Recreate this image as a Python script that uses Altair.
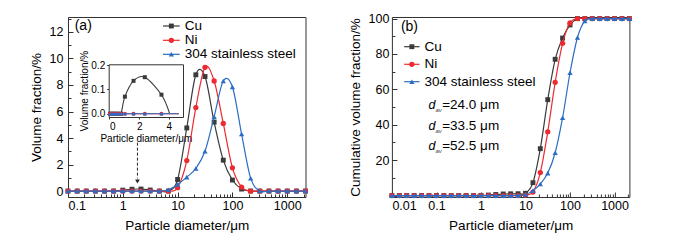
import altair as alt
import pandas as pd

# ---------------- data ----------------
series = ["Cu", "Ni", "304 stainless steel"]
colors = ["#3a3a3a", "#ec2a30", "#2b6dc4"]
shapes = ["square", "circle", "triangle-up"]

# (a) volume fraction distribution
sizes_a = [0.1, 0.147, 0.215, 0.316, 0.464, 0.681, 1.0, 1.47, 2.15, 3.16, 4.64, 6.81,
           10.0, 14.7, 21.5, 31.6, 46.4, 68.1, 100.0, 147.0, 215.0, 316.0, 464.0, 681.0,
           1000.0, 1470.0, 2154.0]
cu_a = [0, 0, 0, 0, 0, 0, 0.07, 0.135, 0.15, 0.078, 0, 0,
        0.87, 4.76, 8.77, 8.64, 5.2, 2.33, 0.83, 0.15, 0, 0, 0, 0, 0, 0, 0]
ni_a = [0, 0, 0, 0, 0, 0, 0, 0, 0, 0, 0, 0,
        0.25, 2.3, 6.3, 9.33, 8.3, 5.1, 1.75, 0.3, 0, 0, 0, 0, 0, 0, 0]
ss_a = [0, 0, 0, 0, 0, 0, 0, 0, 0, 0, 0, 0.1,
        0.5, 1.05, 1.7, 3.0, 5.6, 8.3, 7.85, 4.3, 0.97, 0, 0, 0, 0, 0, 0]

# (b) cumulative volume fraction
sizes_b = [0.01, 0.0147, 0.0215, 0.0316, 0.0464, 0.0681, 0.1, 0.147, 0.215, 0.316, 0.464, 0.681,
           1.0, 1.47, 2.15, 3.16, 4.64, 6.81, 10.0, 14.7, 21.5, 31.6, 46.4, 68.1, 100.0, 147.0,
           215.0, 316.0, 464.0, 681.0, 1000.0, 1470.0, 2154.0]
cu_b = [0, 0, 0, 0, 0, 0, 0, 0, 0, 0, 0, 0,
        0.1, 0.3, 0.6, 0.9, 1.0, 1.05, 1.3, 7.3, 26.5, 54.2, 77, 89, 96.4, 100,
        100, 100, 100, 100, 100, 100, 100]
ni_b = [0, 0, 0, 0, 0, 0, 0, 0, 0, 0, 0, 0,
        0, 0, 0, 0, 0, 0, 0.3, 2.0, 13, 36, 64, 86, 97.5, 100,
        100, 100, 100, 100, 100, 100, 100]
ss_b = [0, 0, 0, 0, 0, 0, 0, 0, 0, 0, 0, 0,
        0, 0, 0, 0, 0, 0.1, 0.6, 2.8, 6.5, 12.7, 24.2, 44, 69.4, 89.3,
        98.7, 100, 100, 100, 100, 100, 100]

# inset of (a)
inset_x_cu = [0.05, 0.18, 0.31, 0.45, 0.6, 0.78, 1.04, 1.62, 2.38, 3.5, 4.05]
inset_cu = [0, 0, 0, 0, 0, 0, 0.07, 0.135, 0.15, 0.078, 0]
inset_x_zero = [0.05, 0.18, 0.31, 0.45, 0.6, 0.78, 1.04, 1.62, 2.38, 3.5, 4.67]
inset_zero = [0, 0, 0, 0, 0, 0, 0, 0, 0, 0, 0]

# dashed arrow (a)
arrow_x = [1.85]
arrow_top = [3.65]
arrow_bot = [0.95]
arrow_tip = [0.72]

# average diameters (b)
dav_text = ["=24.0 μm", "=33.5 μm", "=52.5 μm"]

xtitle = "Particle diameter/μm"

# ---------------- style ----------------
FONT = "Liberation Sans"
W, H = 237.5, 180
TICK = "#333333"
LOGMAJOR = "abs(log(datum.value)/LN10 - round(log(datum.value)/LN10)) < 0.001"


def log_ticks(decades, xmax):
    out = []
    for d in decades:
        for m in range(1, 10):
            v = m * d
            if v <= xmax:
                out.append(v)
    return out


def panel(sizes, vals, xdomain, ydomain, decades, yticks, ymajor, ymajor_test,
          ytitle, ylabpad, ytitlepad, legend_pos, label_text, label_pos, extra):
    xs = alt.Scale(type="log", domain=xdomain, nice=False)
    ys = alt.Scale(domain=ydomain, nice=False, zero=False)
    xticks = log_ticks(decades, xdomain[1])
    layers = []
    for i, v in enumerate(vals):
        df = pd.DataFrame({"d": sizes, "v": v})
        base = alt.Chart(df)
        if i == 0:
            xa_l = alt.Axis(orient="bottom", values=decades, format="~g", ticks=False,
                            domain=False, grid=False, labelPadding=2, labelFontSize=12.5,
                            title=xtitle, titleFontSize=13.5, titlePadding=7)
            ya_l = alt.Axis(orient="left", values=ymajor, format=".0f", ticks=False,
                            domain=False, grid=False, labels=True, labelPadding=ylabpad,
                            labelFontSize=12.5, labelOpacity=1, labelColor="black",
                            title=ytitle, titleFontSize=13.5, titlePadding=ytitlepad)
            xa_p = alt.Axis(orient="top", offset=-H, values=xticks, labels=False, domain=False,
                            grid=False, title=None, tickColor=TICK, tickWidth=1,
                            tickSize={"condition": {"test": LOGMAJOR, "value": 5}, "value": 3})
            ya_p = alt.Axis(orient="right", offset=-W, values=yticks, labels=False, domain=False,
                            grid=False, title=None, tickColor=TICK, tickWidth=1,
                            tickSize={"condition": {"test": ymajor_test, "value": 5}, "value": 3})
        else:
            xa_l = ya_l = xa_p = ya_p = None
        line = base.mark_line(color=colors[i], strokeWidth=1.2, interpolate="cardinal").encode(
            x=alt.X("d:Q", scale=xs, axis=xa_l),
            y=alt.Y("v:Q", scale=ys, axis=ya_l),
        )
        pts = base.mark_point(filled=True, shape=shapes[i], size=28 if i else 24,
                              color=colors[i], opacity=1).encode(
            x=alt.X("d:Q", scale=xs, axis=xa_p),
            y=alt.Y("v:Q", scale=ys, axis=ya_p),
        )
        layers += [line, pts]

    # legend
    lx0, lx1, ltx, lrows = legend_pos
    for i, s in enumerate(series):
        dfl = pd.DataFrame({"t": [s]})
        layers.append(alt.Chart(dfl).mark_rule(color=colors[i], strokeWidth=1.2).encode(
            x=alt.value(lx0), x2=alt.value(lx1), y=alt.value(lrows[i])))
        layers.append(alt.Chart(dfl).mark_point(filled=True, shape=shapes[i], size=28 if i else 24,
                                                color=colors[i], opacity=1).encode(
            x=alt.value((lx0 + lx1) / 2), y=alt.value(lrows[i])))
        layers.append(alt.Chart(dfl).mark_text(align="left", baseline="middle", fontSize=13.5,
                                               font=FONT, color="black").encode(
            x=alt.value(ltx), y=alt.value(lrows[i]), text="t:N"))
    # panel label
    layers.append(alt.Chart(pd.DataFrame({"t": [label_text]})).mark_text(
        align="left", baseline="middle", fontSize=14, font=FONT, color="black").encode(
        x=alt.value(label_pos[0]), y=alt.value(label_pos[1]), text="t:N"))

    layers += extra(xs, ys)
    return alt.layer(*layers).properties(width=W, height=H).resolve_scale(
        x="independent", y="independent")


def extra_a(xs, ys):
    out = []
    adf = pd.DataFrame({"x": arrow_x, "y0": arrow_top, "y1": arrow_bot, "tip": arrow_tip})
    out.append(alt.Chart(adf).mark_rule(strokeDash=[3, 2], color="#222", strokeWidth=1).encode(
        x=alt.X("x:Q", scale=xs, axis=None),
        y=alt.Y("y0:Q", scale=ys, axis=None), y2="y1:Q"))
    out.append(alt.Chart(adf).mark_point(shape="triangle-down", filled=True, size=22,
                                         color="#222", opacity=1).encode(
        x=alt.X("x:Q", scale=xs, axis=None),
        y=alt.Y("tip:Q", scale=ys, axis=None)))

    ixs = alt.Scale(domain=[-0.05, 4.95], range=[40.7, 115], nice=False, zero=False)
    iys = alt.Scale(domain=[-0.0136, 0.203], range=[100, 47.3], nice=False, zero=False)
    ix_axis = alt.Axis(orient="bottom", offset=-(H - 100), values=[0, 2, 4], format=".0f",
                       tickSize=2, tickColor=TICK, domain=True, domainColor=TICK, grid=False,
                       labelFontSize=10, labelPadding=2, title=xtitle, titleFontSize=10,
                       titlePadding=2)
    iy_axis = alt.Axis(orient="left", offset=-40.7, values=[0, 0.1, 0.2], format=".1f",
                       tickSize=2, tickColor=TICK, domain=True, domainColor=TICK, grid=False,
                       labelFontSize=10, labelPadding=2, title="Volume fraction/%",
                       titleFontSize=10, titlePadding=1)
    it_axis = alt.Axis(orient="top", offset=-47.3, labels=False, ticks=False, domain=True,
                       domainColor=TICK, grid=False, title=None)
    ir_axis = alt.Axis(orient="right", offset=-(W - 115), labels=False, ticks=False,
                       domain=True, domainColor=TICK, grid=False, title=None)

    inset_sets = [(inset_x_cu, inset_cu), (inset_x_zero, inset_zero), (inset_x_zero, inset_zero)]
    for i, (xv, yv) in enumerate(inset_sets):
        df = pd.DataFrame({"x": xv, "y": yv})
        base = alt.Chart(df)
        out.append(base.mark_line(color=colors[i], strokeWidth=1.1, interpolate="cardinal").encode(
            x=alt.X("x:Q", scale=ixs, axis=ix_axis if i == 0 else None),
            y=alt.Y("y:Q", scale=iys, axis=iy_axis if i == 0 else None)))
        out.append(base.transform_filter("datum.x < 4").mark_point(
            filled=True, shape=shapes[i], size=16, color=colors[i], opacity=1).encode(
            x=alt.X("x:Q", scale=ixs, axis=it_axis if i == 0 else None),
            y=alt.Y("y:Q", scale=iys, axis=ir_axis if i == 0 else None)))
    return out


def extra_b(xs, ys):
    out = []
    rows = [88.3, 109, 129]
    for r, t in zip(rows, dav_text):
        d = pd.DataFrame({"d": ["d"], "s": ["av"], "t": [t]})
        out.append(alt.Chart(d).mark_text(align="left", baseline="middle", fontSize=12.5,
                                          fontStyle="italic", font=FONT, color="black").encode(
            x=alt.value(36.5), y=alt.value(r), text="d:N"))
        out.append(alt.Chart(d).mark_text(align="left", baseline="middle", fontSize=6,
                                          fontStyle="italic", font=FONT, color="#444").encode(
            x=alt.value(43.5), y=alt.value(r + 4.5), text="s:N"))
        out.append(alt.Chart(d).mark_text(align="left", baseline="middle", fontSize=13.5,
                                          font=FONT, color="black").encode(
            x=alt.value(50.3), y=alt.value(r), text="t:N"))
    return out


panel_a = panel(sizes_a, [cu_a, ni_a, ss_a], [0.1, 2154.43], [-0.45, 13.13],
                [0.1, 1, 10, 100, 1000], list(range(0, 14)), [0, 2, 4, 6, 8, 10, 12],
                "datum.value % 2 == 0", "Volume fraction/%", 5, 6,
                (95, 111.7, 116.7, [9, 23.3, 37.3]), "(a)", (6.7, 9), extra_a)

panel_b = panel(sizes_b, [cu_b, ni_b, ss_b], [0.01, 2154.43], [-0.8, 100.9],
                [0.01, 0.1, 1, 10, 100, 1000], list(range(0, 101, 10)), [20, 40, 60, 80, 100],
                "datum.value % 20 == 0", "Cumulative volume fraction/%", 3, 6,
                (12.3, 27.6, 32.6, [29.7, 47.3, 64.7]), "(b)", (9, 9.7), extra_b)

chart = alt.hconcat(panel_a, panel_b, spacing=85.9, bounds="flush").properties(
    padding={"left": 28, "top": 12, "right": 5, "bottom": 2},
    background="white",
).configure(font=FONT).configure_view(
    stroke="#333333", strokeWidth=1
).configure_axis(
    labelFont=FONT, titleFont=FONT, labelColor="black", titleColor="black",
    titleFontWeight="normal", grid=False
)

chart.save("out.html", embed_options={"renderer": "svg", "actions": False})
